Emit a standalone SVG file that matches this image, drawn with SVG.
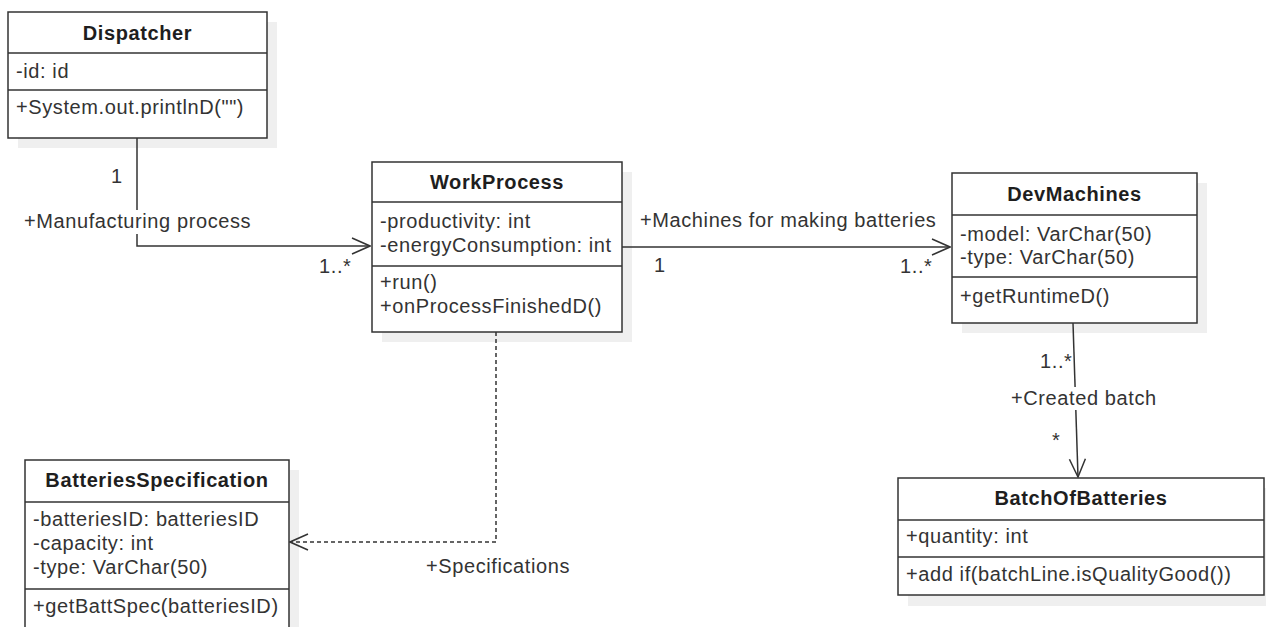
<svg xmlns="http://www.w3.org/2000/svg" width="1266" height="627" viewBox="0 0 1266 627">
<defs>
<style>
.shadow{fill:#efefef;stroke:none}
.box{fill:#ffffff;stroke:#333333;stroke-width:1.5}
.sep{stroke:#333333;stroke-width:1.5}
.title{font-family:"Liberation Sans",Arial,sans-serif;font-size:20px;font-weight:bold;fill:#1e1e1e;text-anchor:middle;letter-spacing:0.6px}
.t{font-family:"Liberation Sans",Arial,sans-serif;font-size:20px;fill:#333333;letter-spacing:0.6px}
.edge{fill:none;stroke:#333333;stroke-width:1.5}
.dash{stroke-dasharray:4 3}
.lblbg{fill:#ffffff;stroke:none}
</style>
<marker id="open" viewBox="0 0 20 18" refX="19" refY="9" markerWidth="20" markerHeight="18" markerUnits="userSpaceOnUse" orient="auto">
<path d="M1,1 L19,9 L1,17" fill="none" stroke="#333333" stroke-width="1.5"/>
</marker>
</defs>
<rect width="1266" height="627" fill="#ffffff"/>

<g id="shadows">
<rect class="shadow" x="18" y="22" width="259" height="126"/>
<rect class="shadow" x="382" y="172" width="250" height="170"/>
<rect class="shadow" x="962" y="183" width="245" height="150"/>
<rect class="shadow" x="35" y="470" width="264" height="180"/>
<rect class="shadow" x="908" y="488" width="366" height="118"/>
</g>

<g id="connectors">
<path class="edge" d="M137,138 V246 H370" marker-end="url(#open)"/>
<rect class="lblbg" x="22" y="210" width="234" height="24"/>
<text class="t" x="24" y="228">+Manufacturing process</text>
<text class="t" x="111" y="183">1</text>
<text class="t" x="319" y="273">1..*</text>

<path class="edge" d="M622,247 H950" marker-end="url(#open)"/>
<text class="t" x="640" y="227">+Machines for making batteries</text>
<text class="t" x="654" y="272">1</text>
<text class="t" x="900" y="273">1..*</text>

<path class="edge" d="M1073,323 L1078,477" marker-end="url(#open)"/>
<rect class="lblbg" x="1009" y="387" width="148" height="23"/>
<text class="t" x="1011" y="405">+Created batch</text>
<text class="t" x="1040" y="368">1..*</text>
<text class="t" x="1052" y="447">*</text>

<path class="edge dash" d="M496,332 V542 H290" marker-end="url(#open)"/>
<text class="t" x="426" y="573">+Specifications</text>
</g>

<g id="Dispatcher">
<rect class="box" x="8" y="12" width="259" height="126"/>
<line class="sep" x1="8" y1="53" x2="267" y2="53"/>
<line class="sep" x1="8" y1="90" x2="267" y2="90"/>
<text class="title" x="137.5" y="40">Dispatcher</text>
<text class="t" x="16" y="78">-id: id</text>
<text class="t" x="16" y="114">+System.out.printlnD("")</text>
</g>

<g id="WorkProcess">
<rect class="box" x="372" y="162" width="250" height="170"/>
<line class="sep" x1="372" y1="202" x2="622" y2="202"/>
<line class="sep" x1="372" y1="266" x2="622" y2="266"/>
<text class="title" x="497" y="189">WorkProcess</text>
<text class="t" x="380" y="228">-productivity: int</text>
<text class="t" x="380" y="252">-energyConsumption: int</text>
<text class="t" x="380" y="289">+run()</text>
<text class="t" x="380" y="313">+onProcessFinishedD()</text>
</g>

<g id="DevMachines">
<rect class="box" x="952" y="173" width="245" height="150"/>
<line class="sep" x1="952" y1="215" x2="1197" y2="215"/>
<line class="sep" x1="952" y1="277" x2="1197" y2="277"/>
<text class="title" x="1074.5" y="201">DevMachines</text>
<text class="t" x="960" y="241">-model: VarChar(50)</text>
<text class="t" x="960" y="264">-type: VarChar(50)</text>
<text class="t" x="960" y="303">+getRuntimeD()</text>
</g>

<g id="BatteriesSpecification">
<rect class="box" x="25" y="460" width="264" height="180"/>
<line class="sep" x1="25" y1="502" x2="289" y2="502"/>
<line class="sep" x1="25" y1="589" x2="289" y2="589"/>
<text class="title" x="157" y="487">BatteriesSpecification</text>
<text class="t" x="33" y="526">-batteriesID: batteriesID</text>
<text class="t" x="33" y="550">-capacity: int</text>
<text class="t" x="33" y="574">-type: VarChar(50)</text>
<text class="t" x="33" y="613">+getBattSpec(batteriesID)</text>
</g>

<g id="BatchOfBatteries">
<rect class="box" x="898" y="478" width="366" height="117"/>
<line class="sep" x1="898" y1="520" x2="1264" y2="520"/>
<line class="sep" x1="898" y1="557" x2="1264" y2="557"/>
<text class="title" x="1081" y="505">BatchOfBatteries</text>
<text class="t" x="906" y="543">+quantity: int</text>
<text class="t" x="906" y="581">+add if(batchLine.isQualityGood())</text>
</g>
</svg>
